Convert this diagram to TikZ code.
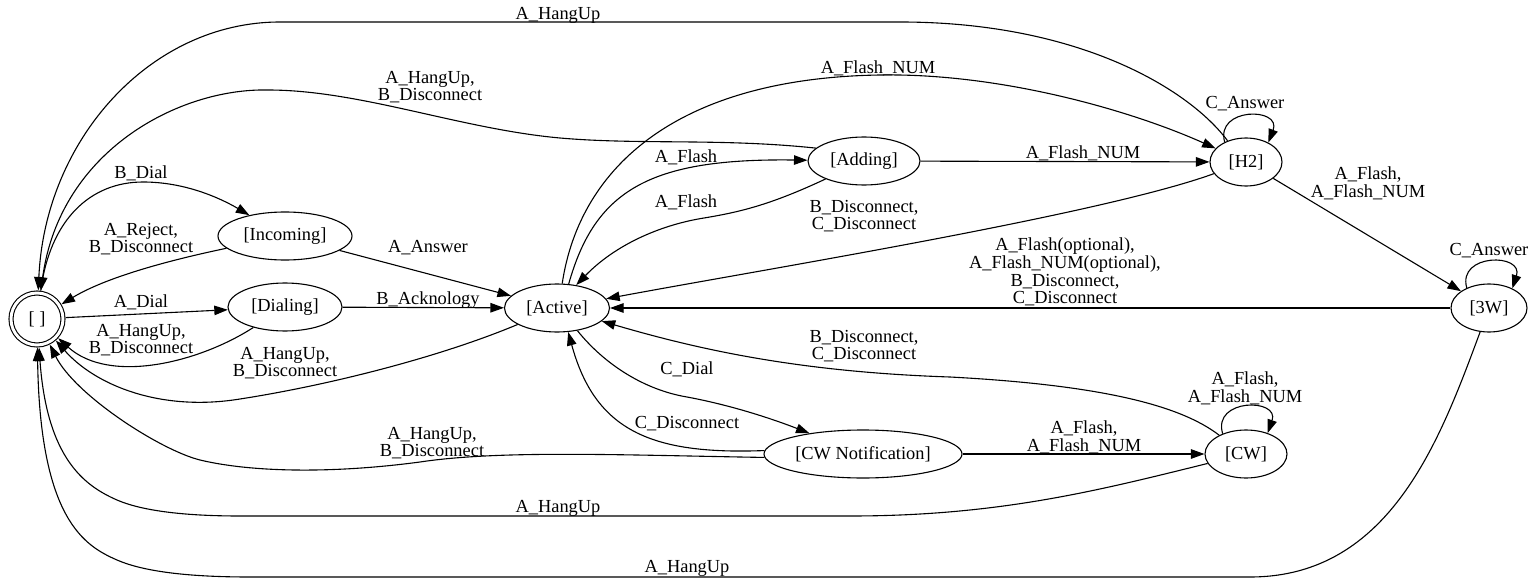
\documentclass[tikz,border=0pt]{standalone}
\usepackage{fontspec}
\setmainfont{Liberation Serif}
\usetikzlibrary{shapes.geometric,arrows.meta}
\begin{document}
\begin{tikzpicture}[x=1pt,y=-1pt,
  every node/.style={font=\fontsize{18.4}{17.7}\selectfont},
  st/.style={ellipse,draw,line width=1.1pt,minimum height=48pt,inner sep=0pt},
  lbl/.style={align=center,inner sep=0pt},
  e/.style={draw,line width=1.1pt,-{Triangle[length=13.5pt,width=9.5pt]}}]
\useasboundingbox (0,0) rectangle (1534,583);

% states
\node[circle,draw,double,double distance=2.9pt,line width=1.1pt,minimum size=52pt,inner sep=0pt,outer sep=2.6pt] (init) at (37,319) {[ ]};
\node[st,minimum width=134pt] (incoming) at (285,236) {[Incoming]};
\node[st,minimum width=114pt] (dialing) at (285,307) {[Dialing]};
\node[st,minimum width=105pt] (active) at (557,308) {[Active]};
\node[st,minimum width=112pt] (adding) at (864,161) {[Adding]};
\node[st,minimum width=72pt] (h2) at (1246,162) {[H2]};
\node[st,minimum width=76pt] (w3) at (1489,308) {[3W]};
\node[st,minimum width=198pt] (cwn) at (863,454) {[CW Notification]};
\node[st,minimum width=82pt] (cw) at (1246,454) {[CW]};

% edges
\draw[e] (init) .. controls (50,220) and (90,182) .. (143,182) .. controls (185,182) and (220,198) .. (incoming);
\draw[e] (incoming) .. controls (180,258) and (110,275) .. (init);
\draw[e] (init) -- (dialing);
\draw[e] (dialing) .. controls (200,362) and (110,385) .. (init);
\draw[e] (incoming) -- (active);
\draw[e] (dialing) -- (active);
\draw[e] (active) .. controls (440,357) and (330,385) .. (240,399) .. controls (160,412) and (95,385) .. (init);
\draw[e] (active.64) .. controls (595,190) and (650,158) .. (adding);
\draw[e] (adding) .. controls (770,205) and (740,212) .. (704,218) .. controls (660,225) and (615,245) .. (active.50);
\draw[e] (active.78) .. controls (580,165) and (680,78) .. (880,75) .. controls (1000,73) and (1130,110) .. (h2);
\draw[e] (adding) -- (h2);
\draw[e] (h2) .. controls (1100,215) and (760,270) .. (active);
\draw[e] (h2.137) .. controls (1215,107) and (1282,107) .. (h2.41);
\draw[e] (h2) -- (w3);
\draw[e] (w3.138) .. controls (1457,253) and (1524,253) .. (w3.40);
\draw[e] (w3) -- (active);
\draw[e] (active.-48) .. controls (605,365) and (645,390) .. (687,397) .. controls (730,405) and (770,418) .. (cwn);
\draw[e] (cwn.178) .. controls (650,455) and (595,430) .. (active.-65);
\draw[e] (cwn) -- (cw);
\draw[e] (cw.145) .. controls (1180,405) and (1100,385) .. (950,377) .. controls (800,372) and (700,350) .. (active);
\draw[e] (cw.139) .. controls (1212,398) and (1280,398) .. (cw.44);
\draw[e] (cwn.182) .. controls (620,455) and (500,450) .. (420,462) .. controls (330,474) and (250,472) .. (200,460) .. controls (160,450) and (75,395) .. (init);
\draw[e] (cw) .. controls (1100,490) and (1000,516) .. (850,516) -- (240,516) .. controls (180,516) and (140,510) .. (117,500) .. controls (85,486) and (47,459) .. (init);
\draw[e] (w3) .. controls (1440,440) and (1390,577) .. (1250,577) -- (250,577) .. controls (180,577) and (140,570) .. (117,560) .. controls (85,546) and (40,520) .. (init);
\draw[e] (h2.131) .. controls (1190,90) and (1080,22) .. (900,22) -- (280,22) .. controls (150,22) and (45,140) .. (init);
\draw[e] (adding.165) .. controls (720,138) and (640,145) .. (560,138) .. controls (460,129) and (360,90) .. (268,90) .. controls (180,88) and (60,150) .. (init);

% labels
\node[lbl] (l1) at (141,173) {B\_Dial};
\node[lbl] (l2) at (141,239) {A\_Reject,\\B\_Disconnect};
\node[lbl] (l3) at (141,302) {A\_Dial};
\node[lbl] (l4) at (141,340) {A\_HangUp,\\B\_Disconnect};
\node[lbl] (l5) at (285,363) {A\_HangUp,\\B\_Disconnect};
\node[lbl] (l6) at (428,248) {A\_Answer};
\node[lbl] (l7) at (428,300) {B\_Acknology};
\node[lbl] (l8) at (686,157) {A\_Flash};
\node[lbl] (l9) at (686,202) {A\_Flash};
\node[lbl] (l10) at (878,68) {A\_Flash\_NUM};
\node[lbl] (l11) at (1083,153) {A\_Flash\_NUM};
\node[lbl] (l12) at (430,87) {A\_HangUp,\\B\_Disconnect};
\node[lbl] (l13) at (558,15) {A\_HangUp};
\node[lbl] (l14) at (864,216) {B\_Disconnect,\\C\_Disconnect};
\node[lbl] (l15) at (1245,104) {C\_Answer};
\node[lbl] (l16) at (1368,183) {A\_Flash,\\A\_Flash\_NUM};
\node[lbl] (l17) at (1489,251) {C\_Answer};
\node[lbl] (l18) at (1065,272) {A\_Flash(optional),\\A\_Flash\_NUM(optional),\\B\_Disconnect,\\C\_Disconnect};
\node[lbl] (l19) at (864,346) {B\_Disconnect,\\C\_Disconnect};
\node[lbl] (l20) at (687,369) {C\_Dial};
\node[lbl] (l21) at (687,424) {C\_Disconnect};
\node[lbl] (l22) at (1084,437) {A\_Flash,\\A\_Flash\_NUM};
\node[lbl] (l23) at (1245,388) {A\_Flash,\\A\_Flash\_NUM};
\node[lbl] (l24) at (432,443) {A\_HangUp,\\B\_Disconnect};
\node[lbl] (l25) at (558,508) {A\_HangUp};
\node[lbl] (l26) at (687,568) {A\_HangUp};
\end{tikzpicture}
\end{document}
